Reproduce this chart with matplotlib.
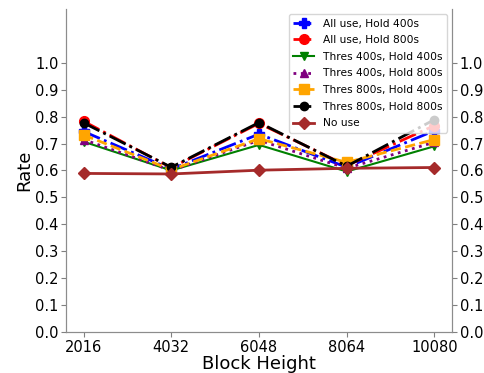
import matplotlib
matplotlib.use('Agg')
import matplotlib.pyplot as plt

heights = [2016, 4032, 6048, 8064, 10080]

all400 = [0.745, 0.605, 0.735, 0.612, 0.748]
all800 = [0.783, 0.610, 0.775, 0.618, 0.767]
t400h400 = [0.707, 0.600, 0.695, 0.596, 0.690]
t400h800 = [0.715, 0.600, 0.712, 0.608, 0.705]
t800h400 = [0.732, 0.603, 0.718, 0.630, 0.715]
t800h800 = [0.777, 0.612, 0.778, 0.616, 0.789]
nouse = [0.589, 0.587, 0.601, 0.608, 0.611]

yticks = [0.0, 0.1, 0.2, 0.3, 0.4, 0.5, 0.6, 0.7, 0.8, 0.9, 1.0]

fig = plt.figure(figsize=(4.85, 3.73), dpi=100)
ax = fig.add_axes([0.136, 0.110, 0.796, 0.866])

ax.plot(heights, all400, color='blue', linestyle='-.', marker='P', markersize=7, linewidth=2, label='All use, Hold 400s')
ax.plot(heights, all800, color='red', linestyle='-.', marker='o', markersize=7, linewidth=2, label='All use, Hold 800s')
ax.plot(heights, t400h400, color='green', linestyle='-', marker='v', markersize=6, linewidth=1.5, label='Thres 400s, Hold 400s')
ax.plot(heights, t400h800, color='purple', linestyle=':', marker='^', markersize=6, linewidth=2, label='Thres 400s, Hold 800s')
ax.plot(heights, t800h400, color='orange', linestyle='--', marker='s', markersize=7, linewidth=2, label='Thres 800s, Hold 400s')
ax.plot(heights, t800h800, color='black', linestyle='-.', marker='o', markersize=6, linewidth=2, label='Thres 800s, Hold 800s')
ax.plot(heights, nouse, color='brown', linestyle='-', marker='D', markersize=6, linewidth=2, label='No use')

ax.set_ylim(0, 1.2)
ax.set_yticks(yticks)
ax.set_xticks(heights)
ax.tick_params(labelsize=10.5, colors='0.5', labelcolor='black', pad=2)
ax.set_xlabel('Block Height', fontsize=13, labelpad=0)
ax.set_ylabel('Rate', fontsize=13, labelpad=1)

ax2 = ax.twinx()
ax2.set_ylim(0, 1.2)
ax2.set_yticks(yticks)
ax2.tick_params(labelsize=10.5, colors='0.5', labelcolor='black', pad=2)

for a in (ax, ax2):
    a.spines['top'].set_visible(False)
    for s in ('left', 'right', 'bottom'):
        a.spines[s].set_color('0.55')

ax.legend(loc='upper right', fontsize=7.7, handlelength=2, borderpad=0.4, labelspacing=0.62)

fig.savefig('out.png')
